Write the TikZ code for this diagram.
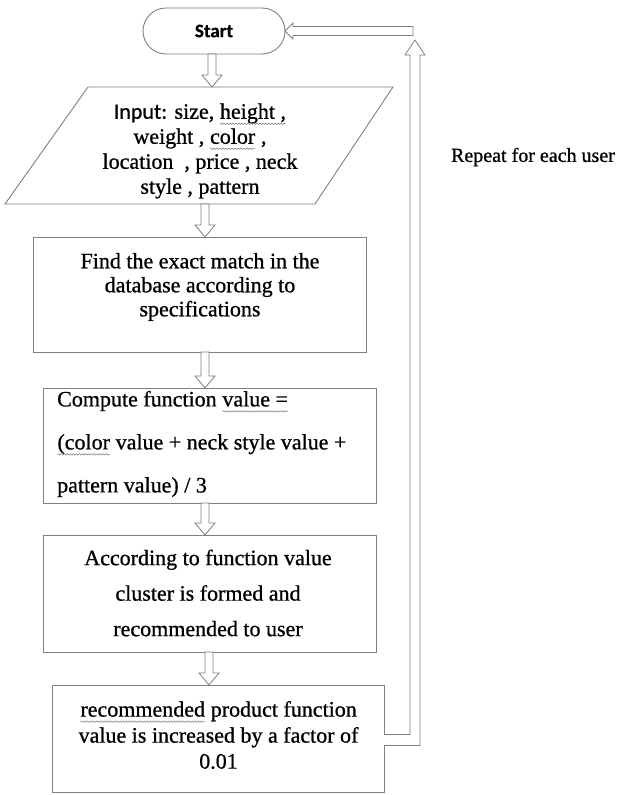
\documentclass[tikz,border=0pt]{standalone}
\usepackage{fontspec}
\setmainfont{Liberation Serif}[FakeBold=0.8]
\newfontfamily\calibri{Carlito}[FakeBold=0.6]
\usetikzlibrary{shapes.misc,calc,decorations.pathmorphing}
\definecolor{linegray}{HTML}{7F7F7F}
\newcommand\squig[1]{\tikz[baseline=(sq.base)]{\node[inner sep=0pt,outer sep=0pt] (sq) {#1};
  \draw[gray, line width=0.5pt, decorate, decoration={snake, amplitude=0.7pt, segment length=3pt}]
  ([yshift=-5pt]sq.base west) -- ([yshift=-5pt]sq.base east);}}
% hollow block arrow pointing down: #1 = x, #2 upper node, #3 lower node
\newcommand\hdown[3]{%
  \coordinate (hx) at (#1,0);
  \draw[hollow] let \p1=(hx |- #2.south), \p2=(hx |- #3.north) in
    (\x1-4pt,\y1) -- (\x1+4pt,\y1) -- (\x1+4pt,\y2+12pt) -- (\x1+10pt,\y2+12pt)
    -- (\x2,\y2) -- (\x1-10pt,\y2+12pt) -- (\x1-4pt,\y2+12pt) -- cycle;}
\begin{document}
\begin{tikzpicture}[x=1pt,y=-1pt,
  box/.style={draw=linegray, line width=0.9pt, inner sep=0pt, outer sep=0pt},
  hollow/.style={draw=linegray, line width=0.8pt, fill=white, line join=miter},
  txt/.style={inner sep=0pt, align=center}]
\useasboundingbox (0,0) rectangle (621,795);
\fill[white] (0,0) rectangle (621,795);

% start terminal
\node[box, rounded rectangle, minimum width=142pt, minimum height=46pt,
      font=\calibri\bfseries\fontsize{19}{23}\selectfont] (start) at (214,31) {Start};

% input parallelogram
\node[inner sep=0pt, outer sep=0pt, minimum width=388pt, minimum height=117pt] (inp) at (199,145.5) {};
\draw[linegray, line width=0.9pt] (inp.south west) -- ($(inp.north west)+(83,0)$)
  -- (inp.north east) -- ($(inp.south east)+(-78,0)$) -- cycle;
\node[txt, font=\fontsize{22}{25}\selectfont] (tin) at (200,151)
  {{\calibri Input:} size, \squig{height ,}\\ weight , \squig{color} ,\\ location~~, price , neck\\ style , pattern};

% process boxes
\node[box, minimum width=333pt, minimum height=115pt] (b2) at (199.5,294.5) {};
\node[txt, font=\fontsize{22}{24}\selectfont] (t2) at (200,287)
  {Find the exact match in the\\ database according to\\ specifications};

\node[box, minimum width=333pt, minimum height=115pt] (b3) at (209.5,445.5) {};
\node[txt, align=left, anchor=west, font=\fontsize{22}{43}\selectfont] (t3) at (57,444)
  {Compute function \squig{value =}\\ \squig{(color} value + neck style value +\\ pattern value) / 3};

\node[box, minimum width=333pt, minimum height=117pt] (b4) at (209.5,593.5) {};
\node[txt, font=\fontsize{22}{35.5}\selectfont] (t4) at (208,593)
  {According to function value\\ cluster is formed and\\ recommended to user};

\node[box, minimum width=332pt, minimum height=107pt] (b5) at (218,738.5) {};
\node[txt, font=\fontsize{22}{26}\selectfont] (t5) at (218.5,735)
  {\squig{recommended} product function\\ value is increased by a factor of\\ 0.01};

% side label
\node[txt, font=\fontsize{20}{24}\selectfont] (rep) at (533,157) {Repeat for each user};

% hollow arrows down
\hdown{212}{start}{inp}
\hdown{205}{inp}{b2}
\hdown{205}{b2}{b3}
\hdown{205}{b3}{b4}
\hdown{209}{b4}{b5}

% feedback loop
\draw[hollow] ($(b5.east)+(0,-4)$) -- ++(26,0) -- ++(0,-679.5) -- ++(-5,0)
  -- ++(10,-15) -- ++(10,15) -- ++(-5,0) -- ++(0,690.5) -- ++(-36,0);
\draw[hollow] (start.east) -- ++(8,-8) -- ++(0,3.5) -- ++(120,0) -- ++(0,9)
  -- ++(-120,0) -- ++(0,3.5) -- cycle;
\end{tikzpicture}
\end{document}
